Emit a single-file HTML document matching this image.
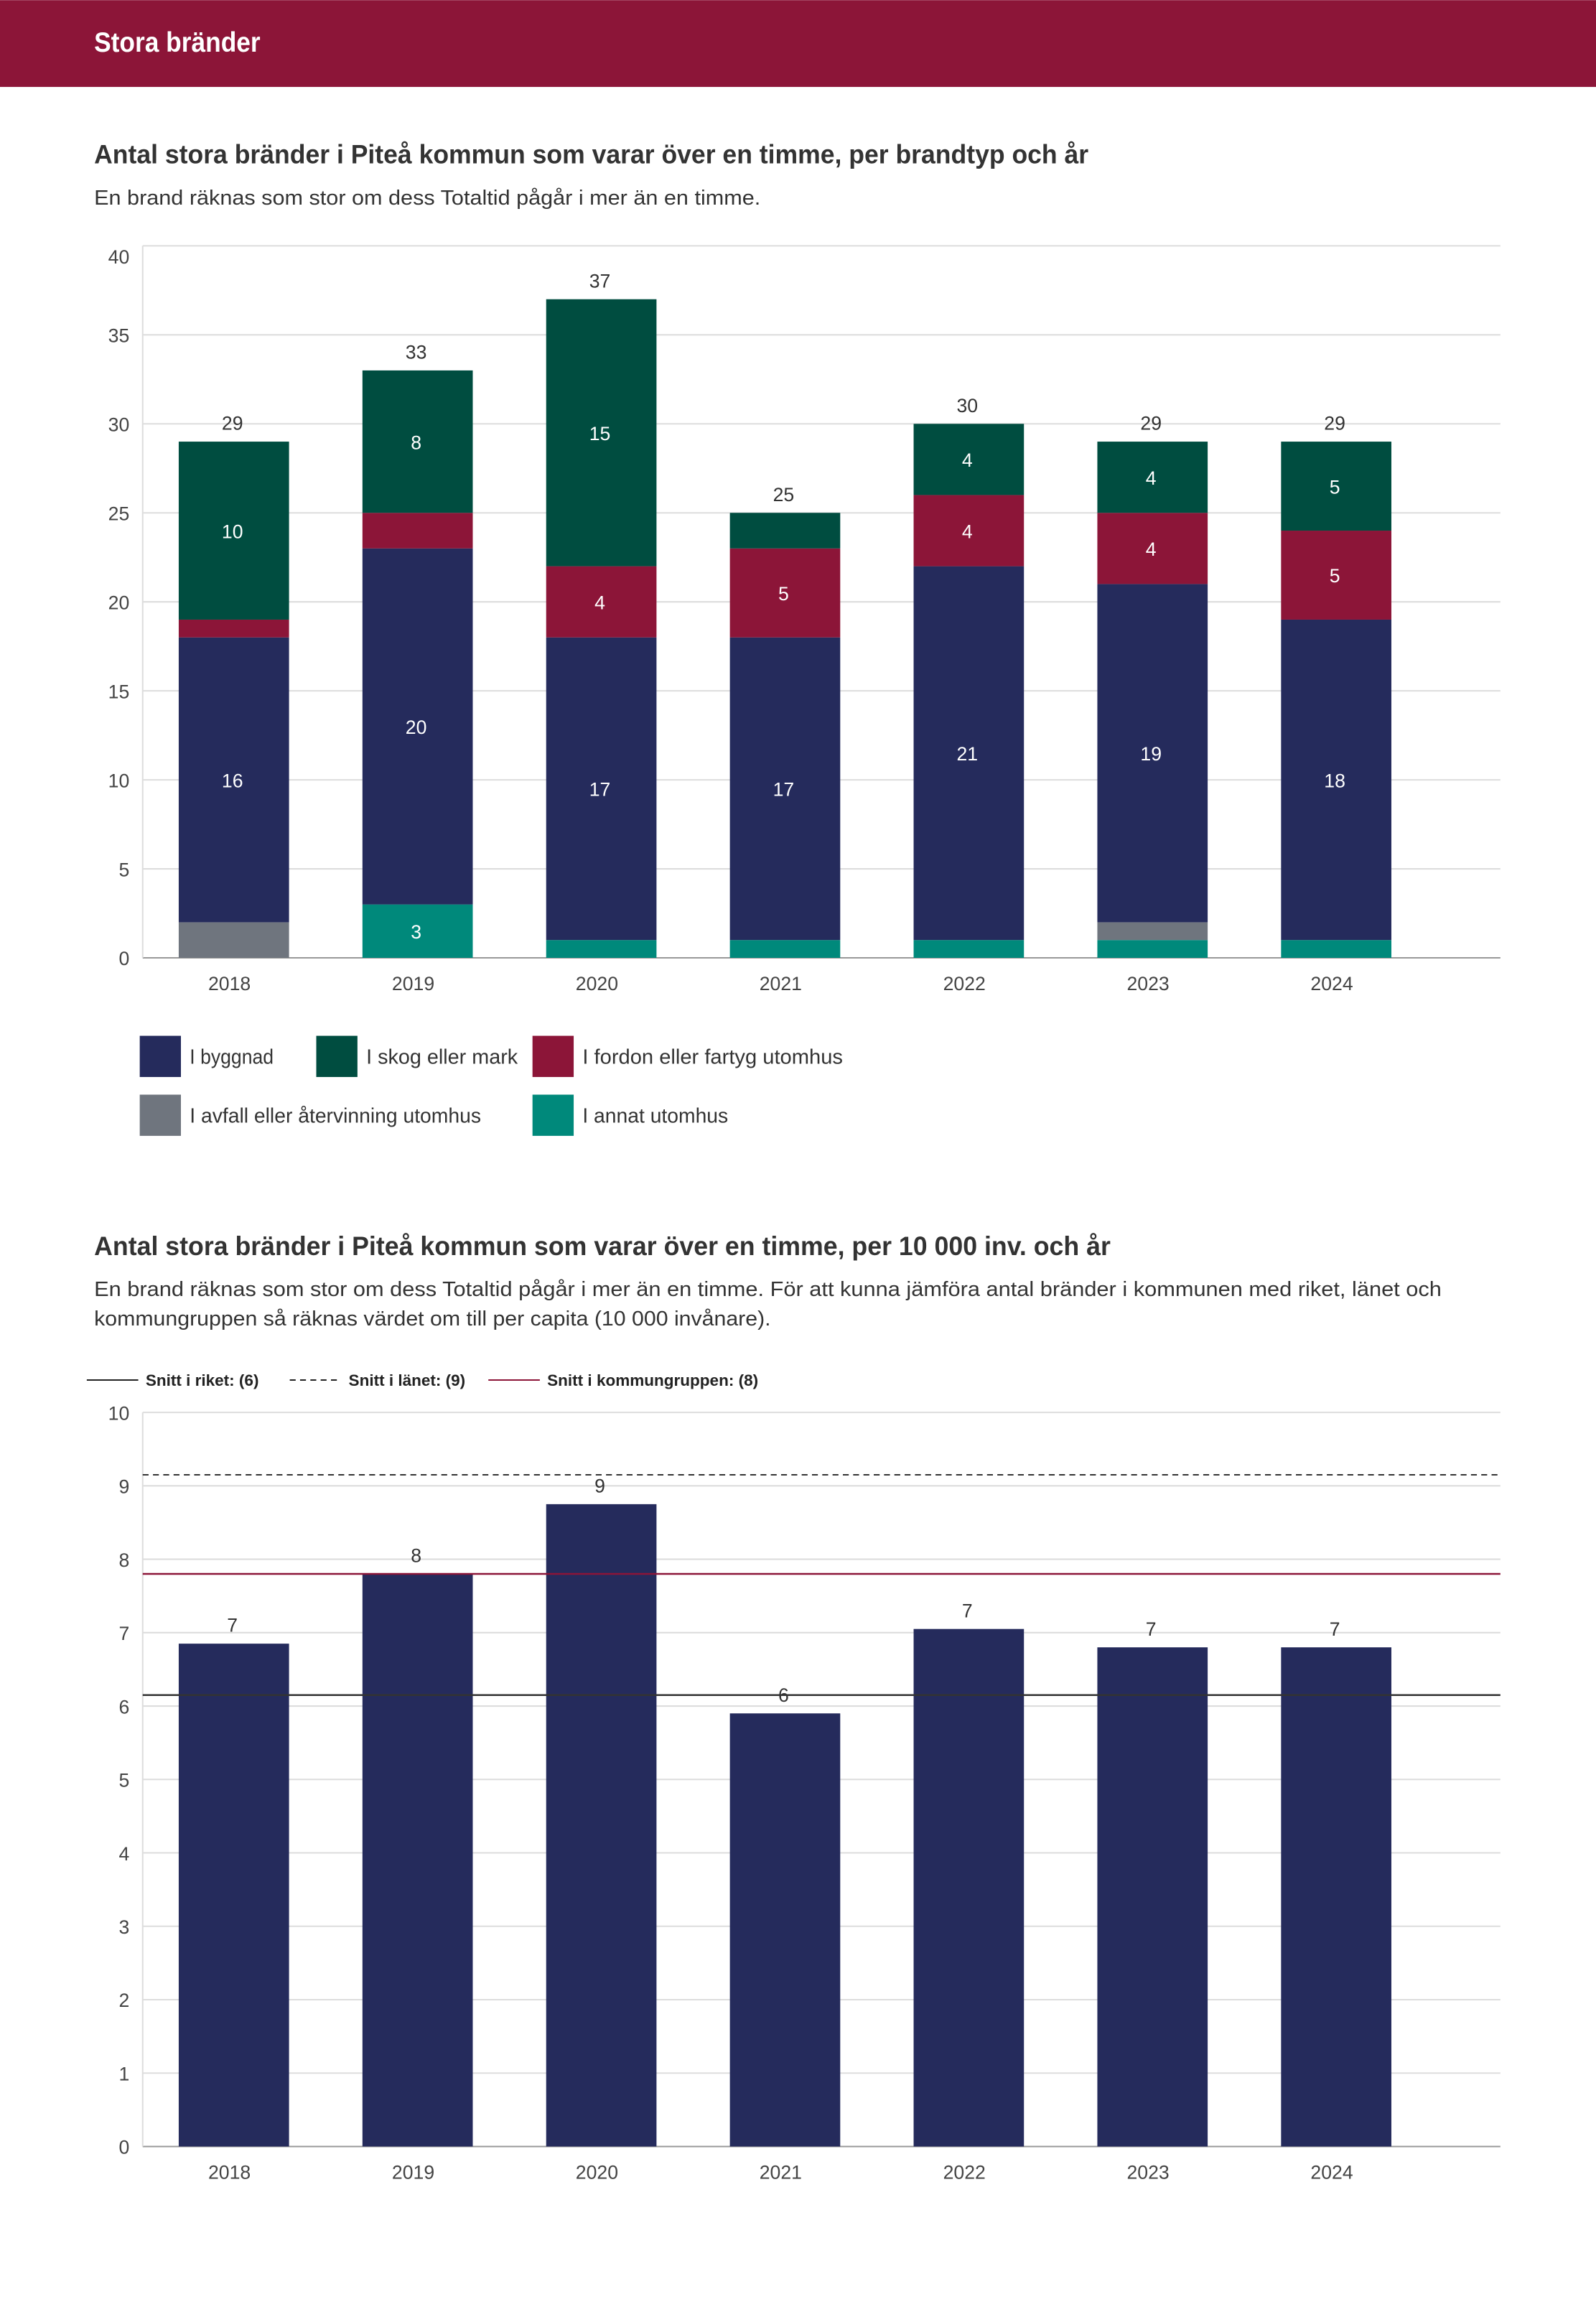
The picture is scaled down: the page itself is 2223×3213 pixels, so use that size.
<!DOCTYPE html>
<html><head><meta charset="utf-8"><style>
body{margin:0;background:#fff;}
svg{display:block;font-family:"Liberation Sans",sans-serif;}
</style></head><body>
<svg id="s" width="2223" height="3213" viewBox="0 0 1085 1568" xmlns="http://www.w3.org/2000/svg">
<rect x="0" y="0" width="1085" height="59" fill="#8c1538"/>
<text x="64" y="35" fill="#fff" font-size="19" font-weight="bold" textLength="113" lengthAdjust="spacingAndGlyphs">Stora bränder</text>
<text x="64" y="111" fill="#333" font-size="18" font-weight="bold" textLength="676" lengthAdjust="spacingAndGlyphs">Antal stora bränder i Piteå kommun som varar över en timme, per brandtyp och år</text>
<text x="64" y="139" fill="#333" font-size="14" textLength="453" lengthAdjust="spacingAndGlyphs">En brand räknas som stor om dess Totaltid pågår i mer än en timme.</text>
<g id="c1"></g>
<g id="leg1"></g>
<text x="64" y="853" fill="#333" font-size="18" font-weight="bold" textLength="691" lengthAdjust="spacingAndGlyphs">Antal stora bränder i Piteå kommun som varar över en timme, per 10 000 inv. och år</text>
<text x="64" y="881" fill="#333" font-size="14" textLength="916" lengthAdjust="spacingAndGlyphs">En brand räknas som stor om dess Totaltid pågår i mer än en timme. För att kunna jämföra antal bränder i kommunen med riket, länet och</text>
<text x="64" y="901" fill="#333" font-size="14" textLength="460" lengthAdjust="spacingAndGlyphs">kommungruppen så räknas värdet om till per capita (10 000 invånare).</text>
<g id="c2"></g>
</svg>
<script>
const years=["2018","2019","2020","2021","2022","2023","2024"];
const annat=[0,3,1,1,1,1,1];
const avfall=[2,0,0,0,0,1,0];
const byggnad=[16,20,17,17,21,19,18];
const fordon=[1,2,4,5,4,4,5];
const skog=[10,8,15,2,4,4,5];
const ticks1=[0,5,10,15,20,25,30,35,40];
const perCapita=[6.85,7.8,8.75,5.9,7.05,6.8,6.8];
const perCapitaLabels=["7","8","9","6","7","7","7"];
const ticks2=[0,1,2,3,4,5,6,7,8,9,10];
const riket=6.15, lanet=9.15, kommungrupp=7.8;

const NS="http://www.w3.org/2000/svg";
function mk(p,tag,a,txt){const e=document.createElementNS(NS,tag);for(const k in a)e.setAttribute(k,a[k]);if(txt!==undefined)e.textContent=txt;p.appendChild(e);return e;}
const x0=97,x1=1020,step=124.9,bw=75;
const xc=i=>159+i*step;

// chart 1
const c1=document.getElementById('c1');
const y1=v=>651-v*12.1;
ticks1.forEach(t=>{
 const l=mk(c1,'line',{x1:x0,x2:x1,y1:y1(t),y2:y1(t),stroke:t?'#ddd':'#999','stroke-width':1});
 
 
 const tx=mk(c1,'text',{x:88,y:y1(t)+(t==40?12:5),'text-anchor':'end','font-size':13,fill:'#444'},t);
 
 
});
mk(c1,'line',{x1:x0,x2:x0,y1:y1(40),y2:y1(0),stroke:'#ddd'});
const series=[[annat,'#00897b','annat'],[avfall,'#6f757e','avfall'],[byggnad,'#252b5c','byggnad'],[fordon,'#8c1538','fordon'],[skog,'#004d40','skog']];
years.forEach((yr,i)=>{
 let acc=0;
 series.forEach(([arr,col,nm])=>{
  const v=arr[i];if(!v)return;
  const r=mk(c1,'rect',{x:xc(i)-bw/2,y:y1(acc+v),width:bw,height:v*12.1,fill:col});
  
  
  if(v>=3){const t=mk(c1,'text',{x:xc(i)-1,y:y1(acc+v/2)+5,'text-anchor':'middle','font-size':13,fill:'#fff'},v);
   
   }
  acc+=v;
 });
 const tt=mk(c1,'text',{x:xc(i)-1,y:y1(acc)-8,'text-anchor':'middle','font-size':13,fill:'#333'},acc);
 
 
 const xl=mk(c1,'text',{x:xc(i)-3,y:673,'text-anchor':'middle','font-size':13,fill:'#444'},yr);
 
 
});
// legend
const leg=document.getElementById('leg1');
[[95,704,'#252b5c','I byggnad',57],[215,704,'#004d40','I skog eller mark',103],[362,704,'#8c1538','I fordon eller fartyg utomhus',177],[95,744,'#6f757e','I avfall eller återvinning utomhus',198],[362,744,'#00897b','I annat utomhus',99]].forEach(([x,y,c,l,w])=>{
 const r=mk(leg,'rect',{x:x,y:y,width:28,height:28,fill:c});
 
 
 const t=mk(leg,'text',{x:x+34,y:y+19,'font-size':14,fill:'#333',textLength:w,lengthAdjust:'spacingAndGlyphs'},l);
 
 
});

// chart 2
const c2=document.getElementById('c2');
const y2=v=>1459-v*49.9;
[[59,94,'Snitt i riket: (6)','#222','none'],[197,232,'Snitt i länet: (9)','#222','4 3'],[332,367,'Snitt i kommungruppen: (8)','#8c1538','none']].forEach(([a,b,l,c,d])=>{
 mk(c2,'line',{x1:a,x2:b,y1:938,y2:938,stroke:c,'stroke-dasharray':d});
 const t=mk(c2,'text',{x:b+5,y:942,'font-size':11,'font-weight':'bold',fill:'#222'},l);
 
 
});
ticks2.forEach(t=>{
 const l=mk(c2,'line',{x1:x0,x2:x1,y1:y2(t),y2:y2(t),stroke:t?'#ddd':'#999'});
 
 
 const tx=mk(c2,'text',{x:88,y:y2(t)+5,'text-anchor':'end','font-size':13,fill:'#444'},t);
 
 
});
mk(c2,'line',{x1:x0,x2:x0,y1:y2(10),y2:y2(0),stroke:'#ddd'});
years.forEach((yr,i)=>{
 const r=mk(c2,'rect',{x:xc(i)-bw/2,y:y2(perCapita[i]),width:bw,height:perCapita[i]*49.9,fill:'#252b5c'});
 
 
 const t=mk(c2,'text',{x:xc(i)-1,y:y2(perCapita[i])-8,'text-anchor':'middle','font-size':13,fill:'#333'},perCapitaLabels[i]);
 
 
 const xl=mk(c2,'text',{x:xc(i)-3,y:1481,'text-anchor':'middle','font-size':13,fill:'#444'},yr);
 
 
});
const lr=mk(c2,'line',{x1:x0,x2:x1,y1:y2(riket),y2:y2(riket),stroke:'#333','stroke-width':1.2});


const ll=mk(c2,'line',{x1:x0,x2:x1,y1:y2(lanet),y2:y2(lanet),stroke:'#333','stroke-dasharray':'4 3'});


const lk=mk(c2,'line',{x1:x0,x2:x1,y1:y2(kommungrupp),y2:y2(kommungrupp),stroke:'#8c1538','stroke-width':1.2});


</script>
</body></html>
